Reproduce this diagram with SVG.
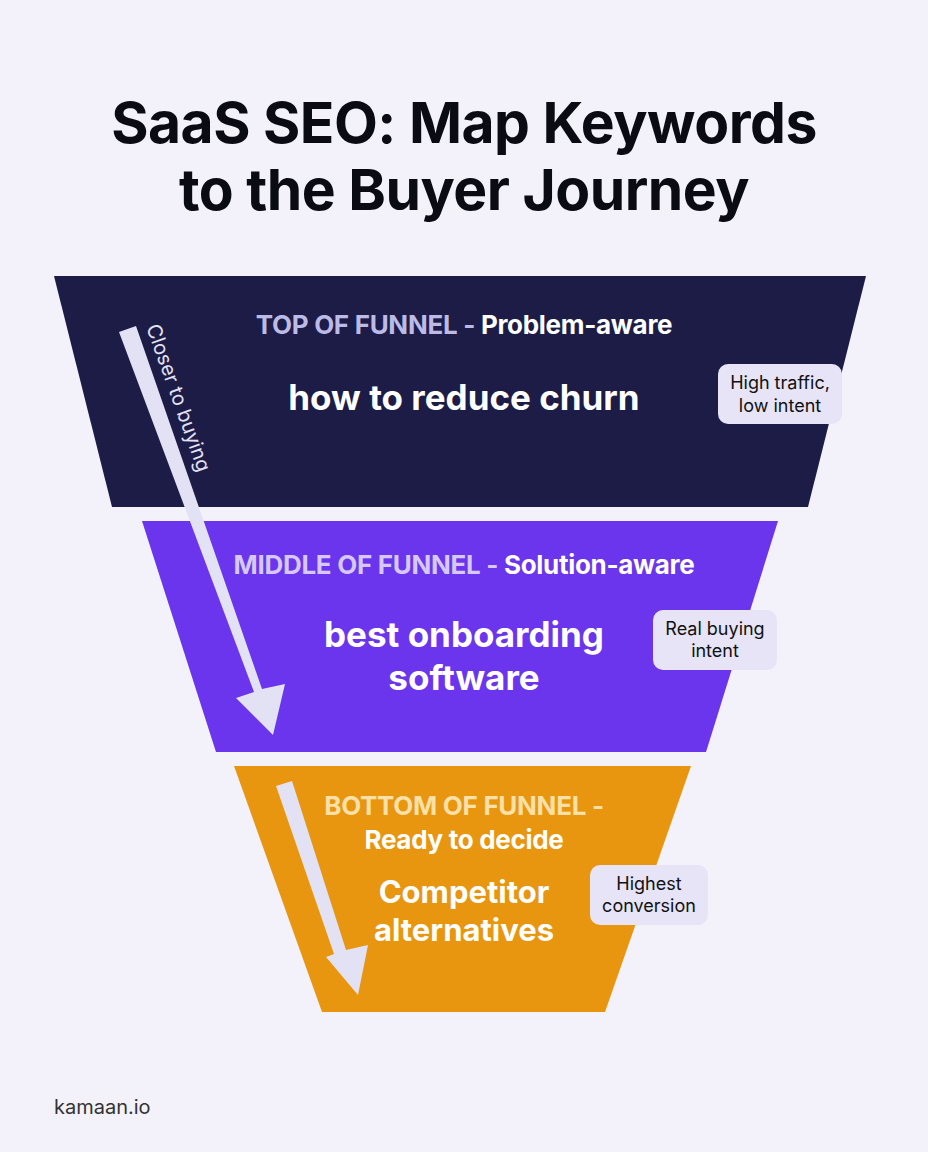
<svg xmlns="http://www.w3.org/2000/svg" width="928" height="1152" viewBox="0 0 928 1152">
<style>
text{font-family:Inter,"Noto Sans",sans-serif}
.t{font-size:57px;font-weight:700;fill:#0b0b14;text-anchor:middle;letter-spacing:-0.5px}
.stage{font-size:26px;font-weight:700;text-anchor:middle;letter-spacing:-0.3px}
.kw{font-size:35px;font-weight:700;fill:#fff;text-anchor:middle}
.badge rect{fill:#e6e4f6}
.badge text{font-size:18px;fill:#111;text-anchor:middle}
.arr{fill:#e3e1f4}
</style>
<rect width="928" height="1152" fill="#f3f2fa"/>
<text class="t" x="464" y="143">SaaS SEO: Map Keywords</text>
<text class="t" x="464" y="210">to the Buyer Journey</text>
<g id="top">
<polygon points="54,276 866,276 808,507 112,507" fill="#1d1c47"/>
<text class="stage" x="464" y="334"><tspan fill="#bcbbe6">TOP OF FUNNEL - </tspan><tspan fill="#fff">Problem-aware</tspan></text>
<text class="kw" x="464" y="410">how to reduce churn</text>
</g>
<g id="middle">
<polygon points="142,521 778,521 706,752 216,752" fill="#6a35ec"/>
<text class="stage" x="464" y="574"><tspan fill="#d6c8fa">MIDDLE OF FUNNEL - </tspan><tspan fill="#fff">Solution-aware</tspan></text>
<text class="kw" x="464" y="647">best onboarding</text>
<text class="kw" x="464" y="690">software</text>
</g>
<g id="bottom">
<polygon points="234,766 691,766 605,1012 322,1012" fill="#e8960f"/>
<text class="stage" x="464" y="815" fill="#fbe0a8">BOTTOM OF FUNNEL -</text>
<text class="stage" x="464" y="849" fill="#fff">Ready to decide</text>
<text class="kw" x="464" y="903" style="font-size:31px">Competitor</text>
<text class="kw" x="464" y="941" style="font-size:31px">alternatives</text>
</g>
<g id="badge1" class="badge"><rect x="718" y="364" width="124" height="60" rx="10"/><text x="780" y="389">High traffic,</text><text x="780" y="412">low intent</text></g>
<g id="badge2" class="badge"><rect x="653" y="610" width="124" height="60" rx="10"/><text x="715" y="635">Real buying</text><text x="715" y="657">intent</text></g>
<g id="badge3" class="badge"><rect x="590" y="865" width="118" height="60" rx="10"/><text x="649" y="890">Highest</text><text x="649" y="912">conversion</text></g>
<g id="connectors">
<polygon class="arr" points="119,332 136,326 262,689 285,684 273,735 236,698 254,692"/>
<polygon class="arr" points="276,786 292,781 346,950 368,945 358,995 326,957 334,954"/>
</g>
<text x="146" y="327" transform="rotate(70.3 146 327)" style="font-size:20px;fill:#e3e1f4">Closer to buying</text>
<text x="54" y="1114" style="font-size:20px;fill:#333">kamaan.io</text>
</svg>
